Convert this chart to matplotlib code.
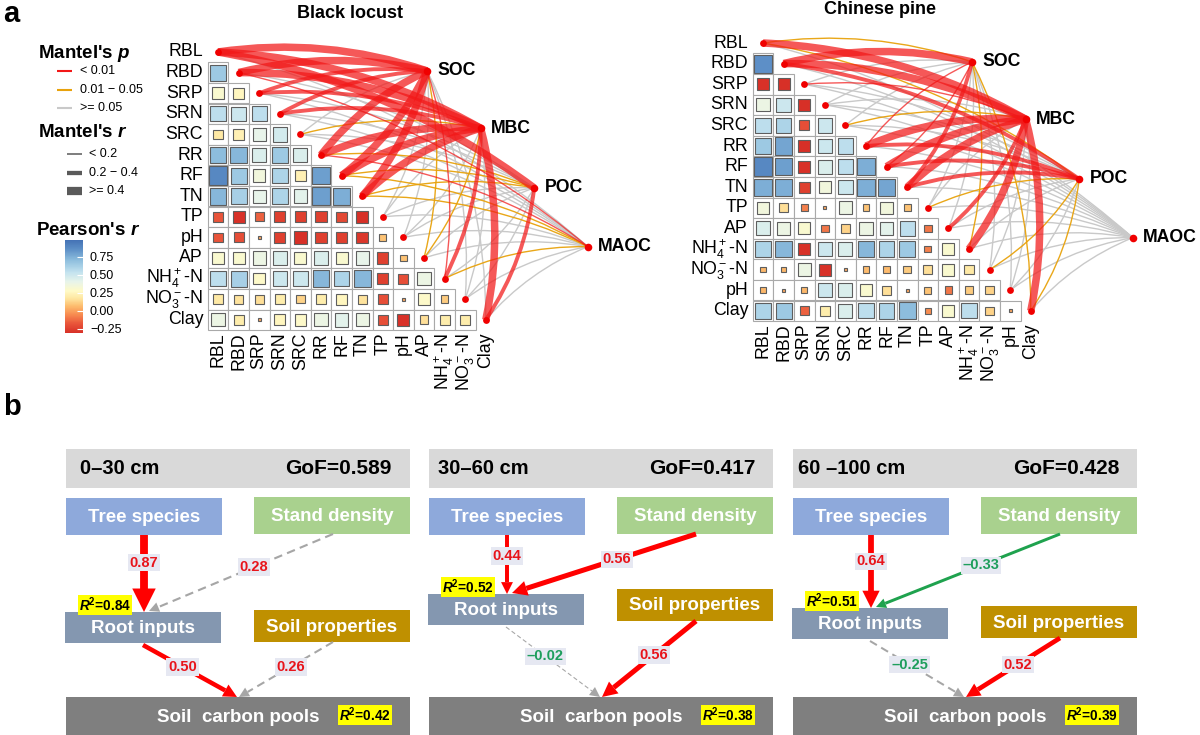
import numpy as np
import matplotlib
matplotlib.use('Agg')
import matplotlib.pyplot as plt
from matplotlib.patches import Rectangle, PathPatch, Polygon
from matplotlib.path import Path
from matplotlib.colors import LinearSegmentedColormap, Normalize
from matplotlib.cm import ScalarMappable

plt.rcParams['font.family'] = ['Liberation Sans', 'DejaVu Sans']
plt.rcParams['mathtext.fontset'] = 'custom'
plt.rcParams['mathtext.rm'] = 'Liberation Sans'
plt.rcParams['mathtext.it'] = 'Liberation Sans:italic'
plt.rcParams['mathtext.bf'] = 'Liberation Sans:bold'
plt.rcParams['mathtext.bfit'] = 'Liberation Sans:italic:bold'
plt.rcParams['mathtext.default'] = 'regular'

# ---------------------------------------------------------------- data (panel a)
bl_vars = ['RBL', 'RBD', 'SRP', 'SRN', 'SRC', 'RR', 'RF', 'TN', 'TP', 'pH', 'AP',
           r'NH$_4^+$-N', r'NO$_3^-$-N', 'Clay']
cp_vars = ['RBL', 'RBD', 'SRP', 'SRN', 'SRC', 'RR', 'RF', 'TN', 'TP', 'AP',
           r'NH$_4^+$-N', r'NO$_3^-$-N', 'pH', 'Clay']
targets = ['SOC', 'MBC', 'POC', 'MAOC']

# Pearson's r, lower triangle (row k has k values)
bl_r = [
    [0.65],
    [0.30, 0.25],
    [0.55, 0.50, 0.55],
    [0.18, 0.22, 0.40, 0.48],
    [0.70, 0.72, 0.45, 0.65, 0.45],
    [0.88, 0.65, 0.35, 0.60, 0.22, 0.80],
    [0.72, 0.62, 0.40, 0.60, 0.42, 0.80, 0.75],
    [-0.18, -0.30, -0.15, -0.25, -0.25, -0.25, -0.22, -0.35],
    [-0.18, -0.20, 0.01, -0.25, -0.35, -0.25, -0.25, -0.28, 0.08],
    [0.30, 0.30, 0.38, 0.45, 0.30, 0.45, 0.30, 0.40, -0.25, 0.08],
    [0.55, 0.62, 0.28, 0.50, 0.50, 0.72, 0.60, 0.72, -0.25, -0.20, 0.38],
    [0.18, 0.16, 0.15, 0.20, 0.12, 0.20, 0.25, 0.16, -0.20, 0.01, 0.28, 0.10],
    [0.38, 0.20, 0.01, 0.25, 0.28, 0.38, 0.42, 0.38, -0.20, -0.30, 0.15, 0.20, 0.20],
]
cp_r = [
    [0.85],
    [-0.30, -0.32],
    [0.38, 0.50, -0.32],
    [0.55, 0.60, -0.20, 0.50],
    [0.65, 0.78, -0.32, 0.50, 0.55],
    [0.88, 0.80, -0.30, 0.45, 0.55, 0.75],
    [0.75, 0.75, -0.25, 0.35, 0.50, 0.75, 0.78],
    [0.35, 0.15, -0.08, 0.01, 0.38, 0.08, 0.35, 0.08],
    [0.45, 0.38, 0.30, -0.10, 0.12, 0.38, 0.42, 0.55, -0.10],
    [0.60, 0.72, -0.30, 0.50, 0.45, 0.72, 0.60, 0.65, -0.08, 0.30],
    [0.05, 0.05, 0.38, -0.30, 0.01, 0.06, 0.06, 0.10, 0.15, 0.30, 0.18],
    [0.05, 0.01, 0.05, 0.50, 0.45, 0.30, 0.15, 0.01, 0.08, -0.10, 0.10, 0.12],
    [0.60, 0.65, -0.15, 0.20, 0.45, 0.55, 0.60, 0.70, -0.05, 0.30, 0.55, 0.12, 0.01],
]

# Mantel test classes: p (0: <0.01, 1: 0.01-0.05, 2: >=0.05); r (0: <0.2, 1: 0.2-0.4, 2: >=0.4)
bl_mantel_p = [
    [0, 0, 0, 0, 2, 0, 0, 0, 2, 2, 1, 0, 2, 2],   # SOC
    [0, 0, 0, 0, 1, 0, 0, 0, 2, 2, 1, 0, 2, 0],   # MBC
    [0, 2, 2, 2, 2, 1, 1, 1, 2, 2, 2, 2, 2, 0],   # POC
    [2, 0, 2, 2, 2, 0, 1, 1, 2, 2, 2, 1, 2, 2],   # MAOC
]
bl_mantel_r = [
    [2, 2, 1, 1, 0, 2, 2, 2, 0, 0, 0, 0, 0, 0],
    [2, 2, 1, 1, 0, 2, 2, 2, 0, 0, 0, 1, 0, 2],
    [2, 0, 0, 0, 0, 0, 0, 0, 0, 0, 0, 0, 0, 1],
    [0, 0, 0, 0, 0, 0, 0, 0, 0, 0, 0, 0, 0, 0],
]
cp_mantel_p = [
    [1, 0, 2, 2, 2, 0, 0, 0, 2, 2, 1, 2, 2, 1],
    [0, 0, 0, 2, 1, 0, 0, 0, 2, 0, 0, 2, 2, 0],
    [1, 0, 2, 2, 2, 0, 0, 0, 1, 2, 2, 1, 2, 1],
    [2, 2, 2, 2, 2, 2, 2, 2, 2, 2, 2, 2, 2, 2],
]
cp_mantel_r = [
    [0, 2, 0, 0, 0, 0, 0, 1, 0, 0, 0, 0, 0, 0],
    [2, 2, 0, 0, 0, 2, 2, 2, 0, 1, 2, 0, 0, 2],
    [0, 1, 0, 0, 0, 1, 1, 1, 0, 0, 0, 0, 0, 0],
    [0, 0, 0, 0, 0, 0, 0, 0, 0, 0, 0, 0, 0, 0],
]

cbar_ticks = [0.75, 0.50, 0.25, 0.00, -0.25]
p_labels = ['< 0.01', '0.01 \u2212 0.05', '>= 0.05']
r_labels = ['< 0.2', '0.2 \u2212 0.4', '>= 0.4']

# ---------------------------------------------------------------- data (panel b)
depths = ['0\u201330 cm', '30\u201360 cm', '60 \u2013100 cm']
gof = [0.589, 0.417, 0.428]
coef_ts_ri = [0.87, 0.44, 0.64]
coef_sd_ri = [0.28, 0.56, -0.33]
coef_ri_scp = [0.50, -0.02, -0.25]
coef_sp_scp = [0.26, 0.56, 0.52]
sig_ts_ri = [True, True, True]
sig_sd_ri = [False, True, True]
sig_ri_scp = [True, False, False]
sig_sp_scp = [False, True, True]
r2_ri = [0.84, 0.52, 0.51]
r2_scp = [0.42, 0.38, 0.39]

# ---------------------------------------------------------------- figure
W, H = 1200, 735
fig = plt.figure(figsize=(W / 100, H / 100), dpi=100)
bg = fig.add_axes([0, 0, 1, 1])
bg.set_xlim(0, W)
bg.set_ylim(H, 0)
bg.axis('off')

cmap = LinearSegmentedColormap.from_list('pr', [
    (0.00, '#D73027'), (0.10, '#E9553A'), (0.20, '#F88D51'), (0.29, '#FDBD6E'),
    (0.37, '#FEE6A0'), (0.45, '#FFFAC6'), (0.55, '#E8F4EA'), (0.65, '#C4E3EF'),
    (0.78, '#8FBFDE'), (0.90, '#5E90C7'), (1.00, '#4472B5')])
norm = Normalize(vmin=-0.31, vmax=0.98)

CELL = 20.6
P_COL = ['#F21818', '#E8A20C', '#C9C9C9']
P_ALPHA = [0.72, 0.95, 1.0]
R_LW = [1.0, 2.8, 5.4]
TPOS = [(10.15, 0.92), (12.75, 3.70), (15.35, 6.60), (17.95, 9.45)]


def heat_axes(x0, y0):
    xmin, xmax, ymin, ymax = -1.0, 21.2, -2.0, 13.8
    left, right = x0 + xmin * CELL, x0 + xmax * CELL
    top, bottom = y0 + ymin * CELL, y0 + ymax * CELL
    ax = fig.add_axes([left / W, 1 - bottom / H, (right - left) / W, (bottom - top) / H])
    ax.set_xlim(xmin, xmax)
    ax.set_ylim(ymax, ymin)
    ax.axis('off')
    return ax


def draw_corr(ax, labels, rows, mp, mr):
    n = len(labels)
    for i in range(1, n):
        for j in range(i):
            ax.add_patch(Rectangle((j - 0.5, i - 0.5), 1, 1, fc='white', ec='#A9A9A9',
                                   lw=0.8, zorder=1))
            r = rows[i - 1][j]
            s = 0.93 * abs(r) ** 0.4
            ax.add_patch(Rectangle((j - s / 2, i - s / 2), s, s, fc=cmap(norm(r)),
                                   ec='#5E5E5E', lw=0.8, zorder=2))
    # row / column labels
    for i, lab in enumerate(labels):
        ax.text(-0.72, i, lab, ha='right', va='center', fontsize=12.8, clip_on=False)
        ax.text(i, 13.62, lab, ha='center', va='top', rotation=90, fontsize=12.8,
                clip_on=False)
    # mantel links
    order = []
    for t in range(len(TPOS)):
        for i in range(n):
            order.append((mp[t][i], mr[t][i], t, i))
    order.sort(key=lambda z: (-z[0], z[1]))
    zz = 3
    for p, rc, t, i in order:
        P0 = np.array([i, i], float)
        P1 = np.array(TPOS[t], float)
        d = P1 - P0
        L = np.hypot(*d)
        perp = np.array([d[1], -d[0]]) / L
        if perp @ np.array([1.0, -1.0]) < 0:
            perp = -perp
        C = (P0 + P1) / 2 + 0.12 * L * perp
        path = Path([P0, C, P1], [Path.MOVETO, Path.CURVE3, Path.CURVE3])
        ax.add_patch(PathPatch(path, fill=False, ec=P_COL[p], alpha=P_ALPHA[p],
                               lw=R_LW[rc], capstyle='butt', zorder=zz))
        zz += 0.01
    ax.scatter(np.arange(n), np.arange(n), s=24, c='#F00000', zorder=10, lw=0)
    tx = [p[0] for p in TPOS]
    ty = [p[1] for p in TPOS]
    ax.scatter(tx, ty, s=30, c='#F00000', zorder=10, lw=0)
    for name, (x, y) in zip(targets, TPOS):
        ax.text(x + 0.5, y, name, ha='left', va='center', fontsize=12.7,
                fontweight='bold', clip_on=False, zorder=11)
    return ax


axL = heat_axes(218, 52)
draw_corr(axL, bl_vars, bl_r, bl_mantel_p, bl_mantel_r)
axR = heat_axes(763, 43)
draw_corr(axR, cp_vars, cp_r, cp_mantel_p, cp_mantel_r)

bg.text(350, 13, 'Black locust', ha='center', va='center', fontsize=13, fontweight='bold')
bg.text(880, 9, 'Chinese pine', ha='center', va='center', fontsize=13, fontweight='bold')
bg.text(3, 14, 'a', ha='left', va='center', fontsize=21, fontweight='bold')
bg.text(3, 407, 'b', ha='left', va='center', fontsize=21, fontweight='bold')

# ---------------------------------------------------------------- legends
bg.text(84, 53, r"Mantel's $\mathbfit{p}$", ha='center', va='center', fontsize=13.5,
        fontweight='bold')
for k, (lab, yy) in enumerate(zip(p_labels, [71, 90, 108])):
    bg.plot([57, 72], [yy, yy], color=P_COL[k], lw=1.5, solid_capstyle='butt')
    bg.text(80, yy, lab, ha='left', va='center', fontsize=9)
bg.text(83, 132, r"Mantel's $\mathbfit{r}$", ha='center', va='center', fontsize=13.5,
        fontweight='bold')
for k, (lab, yy) in enumerate(zip(r_labels, [154, 173, 191])):
    bg.plot([67, 82], [yy, yy], color='#5A5A5A', lw=R_LW[k] * 1.1, solid_capstyle='butt')
    bg.text(89, yy, lab, ha='left', va='center', fontsize=9)
bg.text(88, 230, r"Pearson's $\mathbfit{r}$", ha='center', va='center', fontsize=13.5,
        fontweight='bold')
cax = fig.add_axes([65 / W, 1 - 333 / H, 18 / W, 93 / H])
cb = fig.colorbar(ScalarMappable(norm=norm, cmap=cmap), cax=cax, ticks=cbar_ticks)
cb.outline.set_visible(False)
cb.ax.set_yticklabels(['%.2f' % v if v >= 0 else '\u2212%.2f' % abs(v) for v in cbar_ticks])
cb.ax.tick_params(length=4, width=0.8, color='white', labelsize=9, pad=5, direction='in')

# ---------------------------------------------------------------- panel b
pan_x = [66, 429, 793]
PW = 344
SUBW = 156
ri_y = [612, 594, 608]
sp_y = [610, 589, 606]
C_HDR, C_TS, C_SD = '#D9D9D9', '#8EA9DB', '#A9D18E'
C_RI, C_SP, C_SCP = '#8497B0', '#BF9000', '#7F7F7F'
RED, GREEN, GREY = '#FF0000', '#1FA24E', '#A6A6A6'
TXT_RED, TXT_GREEN = '#E8141B', '#1E9E5C'


def box(x, y, w, h, color, label=None, fs=13.5, tx=None):
    bg.add_patch(Rectangle((x, y), w, h, fc=color, ec='none', zorder=2))
    if label:
        bg.text(x + w / 2 if tx is None else tx, y + h / 2 + 1, label, ha='center',
                va='center', color='white', fontsize=fs, fontweight='bold', zorder=3)


def arrow(p0, p1, coef, sig, frac):
    p0 = np.array(p0, float)
    p1 = np.array(p1, float)
    if sig:
        col = RED if coef > 0 else GREEN
        wpx = 9 * abs(coef)
    else:
        col = GREY
        wpx = 1 + 4 * abs(coef)
    d = p1 - p0
    L = np.hypot(*d)
    u = d / L
    nrm = np.array([-u[1], u[0]])
    hl = max(10, 3 * wpx)
    hw = max(5, 1.5 * wpx)
    base = p1 - u * hl
    bg.plot([p0[0], base[0]], [p0[1], base[1]], color=col, lw=wpx / 1.389,
            ls=(0, (4, 2.5)) if not sig else '-', solid_capstyle='butt',
            dash_capstyle='butt', zorder=4)
    bg.add_patch(Polygon([p1, base + nrm * hw, base - nrm * hw], closed=True, fc=col,
                         ec='none', zorder=4))
    lp = p0 + frac * d
    txt = ('%.2f' % coef) if coef >= 0 else '\u2013%.2f' % abs(coef)
    bg.text(lp[0], lp[1], txt, ha='center', va='center', fontsize=10.5, fontweight='bold',
            color=TXT_RED if coef > 0 else TXT_GREEN, zorder=5,
            bbox=dict(boxstyle='square,pad=0.12', fc='#E6E8F2', ec='none'))


def r2_label(x, y, val, ha):
    bg.text(x, y, r'$\mathbfit{R}^{\mathbf{2}}$=%.2f' % val, ha=ha, va='center',
            fontsize=9.8, fontweight='bold', zorder=6,
            bbox=dict(boxstyle='square,pad=0.08', fc='#FFFF00', ec='none'))


hdr_text_x = [14, 9, 5]
for k, x0 in enumerate(pan_x):
    box(x0, 449, PW, 39, C_HDR)
    bg.text(x0 + hdr_text_x[k], 468.5, depths[k], ha='left', va='center', fontsize=14.5,
            fontweight='bold')
    bg.text(x0 + 326, 468.5, 'GoF=%.3f' % gof[k], ha='right', va='center', fontsize=15,
            fontweight='bold')
    box(x0, 498, SUBW, 37, C_TS, 'Tree species')
    box(x0 + 188, 497, SUBW, 37, C_SD, 'Stand density')
    box(x0 - 1, ri_y[k], SUBW, 31, C_RI, 'Root inputs')
    box(x0 + 188, sp_y[k], SUBW, 32, C_SP, 'Soil properties')
    box(x0, 697, PW, 38, C_SCP, 'Soil  carbon pools', tx=x0 + 172)

    arrow((x0 + 78, 535), (x0 + 78, ri_y[k]), coef_ts_ri[k], sig_ts_ri[k], 0.36)
    arrow((x0 + 267, 534), (x0 + 83, ri_y[k] - 1), coef_sd_ri[k], sig_sd_ri[k], 0.43)
    arrow((x0 + 77, ri_y[k] + 33), (x0 + 171, 697), coef_ri_scp[k], sig_ri_scp[k], 0.42)
    arrow((x0 + 267, sp_y[k] + 32), (x0 + 173, 697), coef_sp_scp[k], sig_sp_scp[k], 0.45)

    r2_label(x0 + 65, ri_y[k] - 7, r2_ri[k], 'right')
    r2_label(x0 + 325, 715, r2_scp[k], 'right')

fig.savefig('out.png', dpi=100)
